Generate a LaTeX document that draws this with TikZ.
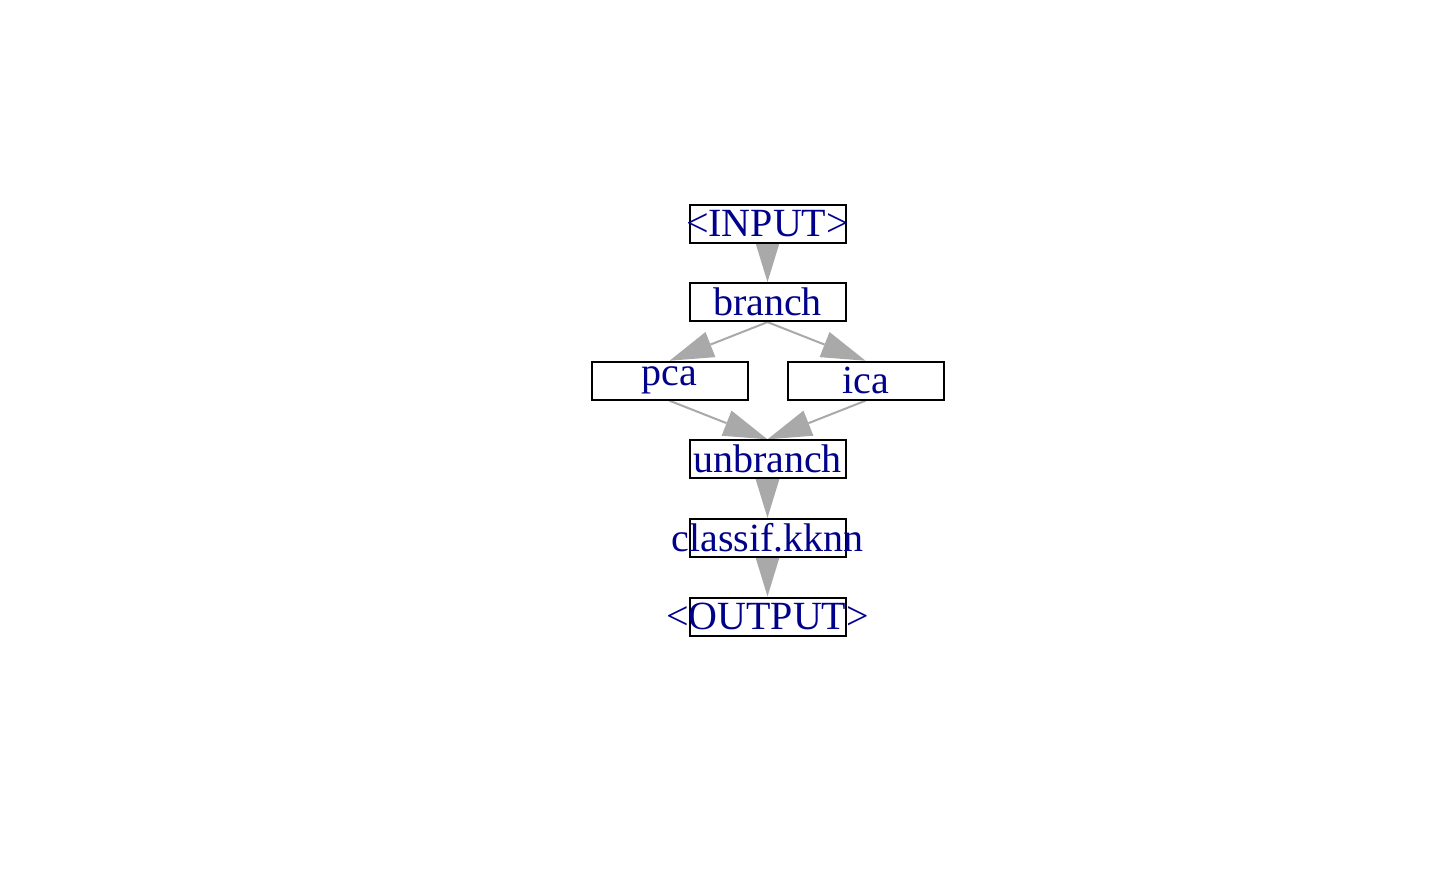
\documentclass[tikz,border=0pt]{standalone}
\usepackage{fontspec}
\setmainfont{Liberation Serif}
\usetikzlibrary{arrows.meta,backgrounds}
\definecolor{grigio}{HTML}{A9A9A9}
\definecolor{blu}{RGB}{0,0,139}

\begin{document}
\begin{tikzpicture}
    [x=1pt, y=-1pt,
     blocco/.style={rectangle, draw, line width=2pt, fill=white, minimum width=156pt, minimum height=38pt, inner sep=0pt},
     testo/.style={text=blu, font=\fontsize{40}{40}\selectfont, inner sep=0pt},
     freccia/.style={draw=grigio, line width=2pt, -{Triangle[length=44pt, width=27pt, line width=0pt, fill=grigio]}}]
    \useasboundingbox (0,0) rectangle (1440,889);

    \node[blocco] (input) at (767.5,223.5) {};
    \node[blocco] (branch) at (767.5,302.1) {};
    \node[blocco] (pca) at (669.5,380.7) {};
    \node[blocco] (ica) at (865.5,380.7) {};
    \node[blocco] (unbranch) at (767.5,459.3) {};
    \node[blocco] (kknn) at (767.5,537.9) {};
    \node[blocco] (output) at (767.5,616.5) {};

    \node[testo] at (input) {<INPUT>};
    \node[testo] at (branch) {branch};
    \node[testo] at (pca) {pca};
    \node[testo] at (ica) {ica};
    \node[testo] at (unbranch) {unbranch};
    \node[testo] at (kknn) {classif.kknn};
    \node[testo] at (output) {<OUTPUT>};

    \begin{scope}[on background layer]
    \draw[freccia] (input.south) -- (branch.north);
    \draw[freccia] (branch.south) -- (pca.north);
    \draw[freccia] (branch.south) -- (ica.north);
    \draw[freccia] (pca.south) -- (unbranch.north);
    \draw[freccia] (ica.south) -- (unbranch.north);
    \draw[freccia] (unbranch.south) -- (kknn.north);
    \draw[freccia] (kknn.south) -- (output.north);
    \end{scope}
\end{tikzpicture}
\end{document}
